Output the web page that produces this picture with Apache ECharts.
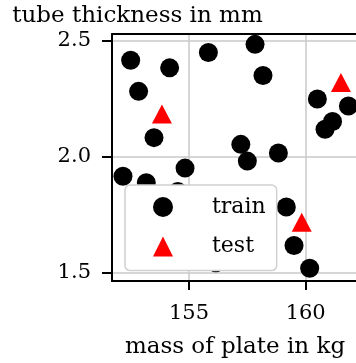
<!DOCTYPE html>
<html>
<head>
<meta charset="utf-8">
<script src="https://cdn.jsdelivr.net/npm/echarts@6/dist/echarts.min.js"></script>
<style>
  html, body { margin: 0; padding: 0; background: #fff; }
  #_chart { width: 356px; height: 363px; }
</style>
</head>
<body>
<div id="_chart"></div>
<script>
// mass of plate (kg) / tube thickness (mm)
var trainX = [152.50, 154.17, 152.84, 153.50, 155.83, 157.83, 158.17, 160.50, 161.83, 161.15, 160.83,
              157.22, 158.83, 157.50, 159.17, 159.50, 160.17, 152.17, 153.17, 154.83, 154.52, 156.15];
var trainY = [2.415, 2.382, 2.281, 2.082, 2.448, 2.483, 2.349, 2.248, 2.218, 2.151, 2.118,
              2.053, 2.016, 1.981, 1.784, 1.618, 1.520, 1.916, 1.888, 1.951, 1.850, 1.544];
var testX = [153.84, 161.51, 159.83];
var testY = [2.184, 2.319, 1.718];
var xTicks = [155, 160];
var yTicks = [1.5, 2.0, 2.5];

function pairs(xs, ys) {
	var out = [];
	for (var i = 0; i < xs.length; i++) out.push([xs[i], ys[i]]);
	return out;
}

var serif = 'DejaVu Serif';
var _chart = echarts.init(document.getElementById('_chart'));
var _chart_option = {
	animation: false,
	grid: { left: 112, top: 34, width: 256, height: 247, outerBoundsMode: 'none', containLabel: false },
	legend: {
		orient: 'vertical',
		left: 125, top: 185,
		padding: [11, 11, 13, 28],
		itemGap: 17.6,
		itemWidth: 20, itemHeight: 20,
		backgroundColor: '#fff',
		borderColor: '#d0d0d0', borderWidth: 1.5, borderRadius: 5,
		textStyle: { fontFamily: serif, fontSize: 22, color: '#000', lineHeight: 20, padding: [0, 0, 0, 34] },
		data: [{ name: 'train', icon: 'circle' }, { name: 'test', icon: 'triangle' }]
	},
	xAxis: [
		{
			type: 'value',
			min: 151.7, max: 162.67,
			name: 'mass of plate in kg',
			nameLocation: 'middle', nameGap: 55,
			nameTextStyle: { fontFamily: serif, fontSize: 23, color: '#000', padding: [0, 10, 0, 0] },
			axisLine: { show: true, lineStyle: { color: '#000', width: 2 } },
			axisTick: { show: true, length: 9, lineStyle: { color: '#000', width: 2 }, customValues: xTicks },
			axisLabel: { fontFamily: serif, fontSize: 21, color: '#000', margin: 22, customValues: xTicks },
			splitLine: { show: true, lineStyle: { color: '#c8c8c8', width: 1.5 } }
		},
		{
			// top spine only
			type: 'value', position: 'top',
			min: 151.7, max: 162.67,
			axisLine: { show: true, onZero: false, lineStyle: { color: '#000', width: 2 } },
			axisTick: { show: false }, axisLabel: { show: false }, splitLine: { show: false }
		}
	],
	yAxis: {
		type: 'value',
		min: 1.4655, max: 2.5276,
		name: 'tube thickness in mm',
		nameLocation: 'end', nameGap: 6,
		nameTextStyle: { fontFamily: serif, fontSize: 23, color: '#000', padding: [0, 0, 0, 51] },
		axisLine: { show: true, lineStyle: { color: '#000', width: 2 } },
		axisTick: { show: true, length: 10, lineStyle: { color: '#000', width: 2 }, customValues: yTicks },
		axisLabel: { fontFamily: serif, fontSize: 21, color: '#000', margin: 21, customValues: yTicks,
			formatter: function (v) { return v.toFixed(1); } },
		splitLine: { show: true, lineStyle: { color: '#c8c8c8', width: 1.5 } }
	},
	series: [
		{
			name: 'train', type: 'scatter',
			symbol: 'circle', symbolSize: 19,
			itemStyle: { color: '#000', opacity: 1 },
			data: pairs(trainX, trainY)
		},
		{
			name: 'test', type: 'scatter',
			symbol: 'triangle', symbolSize: [20, 19],
			itemStyle: { color: '#ff0000', opacity: 1 },
			data: pairs(testX, testY)
		}
	]
};
_chart.setOption(_chart_option);
</script>
</body>
</html>
